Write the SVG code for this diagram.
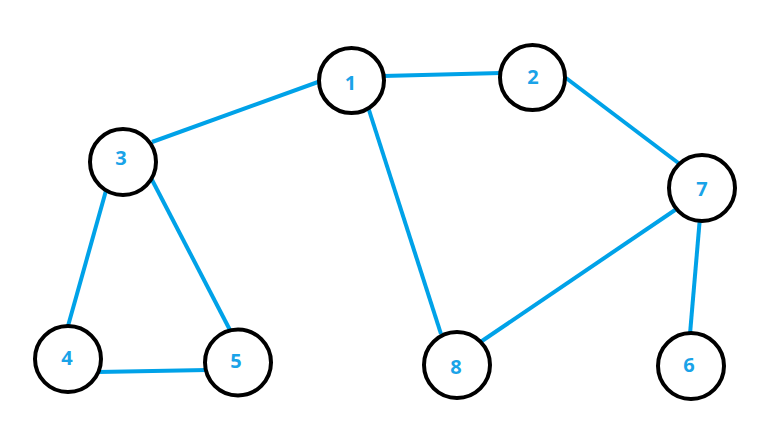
<svg xmlns="http://www.w3.org/2000/svg" width="762" height="440" viewBox="0 0 762 440">
<style>
.node circle{fill:#fff;stroke:#000;stroke-width:4}
.node text{font-family:"Open Sans","Liberation Sans",sans-serif;font-weight:bold;font-size:20px;fill:#1aa3e8;text-anchor:middle}
#edges line{stroke:#00a2e8;stroke-width:4;stroke-linecap:butt}
</style>
<rect width="762" height="440" fill="#fff"/>
<g id="edges">
<line x1="318" y1="82" x2="152" y2="142"/>
<line x1="383" y1="76" x2="501" y2="73"/>
<line x1="368" y1="107" x2="441" y2="334"/>
<line x1="566" y1="78" x2="681" y2="165"/>
<line x1="678" y1="208" x2="479" y2="343"/>
<line x1="700" y1="217" x2="690" y2="334"/>
<line x1="107" y1="187" x2="68" y2="326"/>
<line x1="150" y1="176" x2="231" y2="332"/>
<line x1="98" y1="372" x2="207" y2="370"/>
</g>
<g id="n1" class="node"><circle cx="351.5" cy="80.5" r="32.5"/><text x="350.5" y="90">1</text></g>
<g id="n2" class="node"><circle cx="532.5" cy="77.5" r="32.5"/><text x="533" y="84">2</text></g>
<g id="n3" class="node"><circle cx="123" cy="162" r="33"/><text x="121" y="165">3</text></g>
<g id="n4" class="node"><circle cx="68" cy="359" r="33"/><text x="67" y="365">4</text></g>
<g id="n5" class="node"><circle cx="238" cy="362.5" r="33"/><text x="236" y="368">5</text></g>
<g id="n8" class="node"><circle cx="457" cy="365" r="33"/><text x="456" y="374">8</text></g>
<g id="n6" class="node"><circle cx="691" cy="366" r="33"/><text x="689" y="372">6</text></g>
<g id="n7" class="node"><circle cx="702" cy="188" r="33"/><text x="702" y="196">7</text></g>
</svg>
